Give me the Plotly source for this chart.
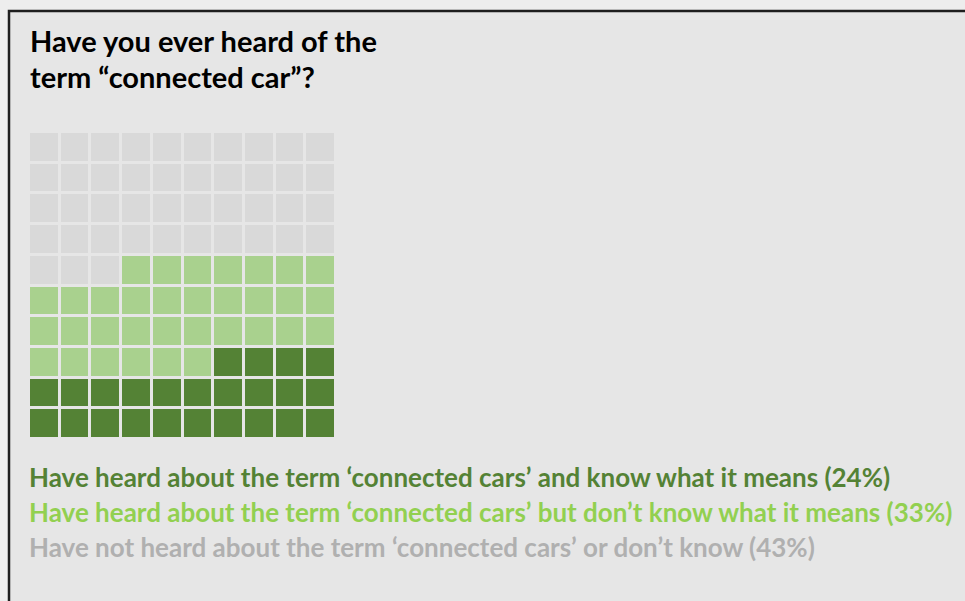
import plotly.graph_objects as go

W, H = 965, 601

title_lines = ["Have you ever heard of the", "term \u201cconnected car\u201d?"]
categories = [
    "Have heard about the term \u2018connected cars\u2019 and know what it means",
    "Have heard about the term \u2018connected cars\u2019 but don\u2019t know what it means",
    "Have not heard about the term \u2018connected cars\u2019 or don\u2019t know",
]
percent = [24, 33, 43]
cell_colors = ["#548235", "#a9d18e", "#d9d9d9"]
text_colors = ["#548235", "#92d050", "#b0b0b0"]

# 10x10 waffle: fill rows from the bottom, each row right-to-left
grid = [[0] * 10 for _ in range(10)]
k = 0
for ci, n in enumerate(percent):
    for _ in range(n):
        row, col = k // 10, 9 - (k % 10)
        grid[row][col] = ci
        k += 1

n_cat = len(categories)
colorscale = []
for i, c in enumerate(cell_colors):
    colorscale.append([i / n_cat, c])
    colorscale.append([(i + 1) / n_cat, c])

fig = go.Figure(
    go.Heatmap(
        z=grid,
        x=list(range(10)),
        y=list(range(10)),
        zmin=-0.5,
        zmax=n_cat - 0.5,
        colorscale=colorscale,
        showscale=False,
        xgap=3,
        ygap=3,
        hoverinfo="skip",
    )
)

def px_x(x):
    return x / W

def px_y(y):
    return 1 - y / H

# panel with dark frame
fig.add_shape(
    type="rect", xref="paper", yref="paper",
    x0=px_x(9), x1=px_x(W + 10), y0=px_y(H + 10), y1=px_y(11),
    fillcolor="#e6e6e6", line=dict(color="#1e1e1e", width=2.5), layer="below",
)

font_family = "Lato"
for i, line in enumerate(title_lines):
    fig.add_annotation(
        x=px_x(28), y=px_y(41 + 35 * i), xref="paper", yref="paper",
        xanchor="left", yanchor="middle", showarrow=False,
        text="<b>%s</b>" % line,
        font=dict(family=font_family, size=29, color="#000000"),
    )

for i, (cat, p) in enumerate(zip(categories, percent)):
    fig.add_annotation(
        x=px_x(27), y=px_y(477 + 35 * i), xref="paper", yref="paper",
        xanchor="left", yanchor="middle", showarrow=False,
        text="<b>%s (%d%%)</b>" % (cat, p),
        font=dict(family=font_family, size=26, color=text_colors[i]),
    )

fig.update_layout(
    width=W, height=H,
    margin=dict(l=0, r=0, t=0, b=0),
    paper_bgcolor="#ededed",
    plot_bgcolor="#ffffff",
    showlegend=False,
    xaxis=dict(domain=[px_x(29), px_x(336)], range=[-0.5, 9.5], visible=False, fixedrange=True),
    yaxis=dict(domain=[px_y(439), px_y(132)], range=[-0.5, 9.5], visible=False, fixedrange=True),
)

fig.write_html("out.html")
